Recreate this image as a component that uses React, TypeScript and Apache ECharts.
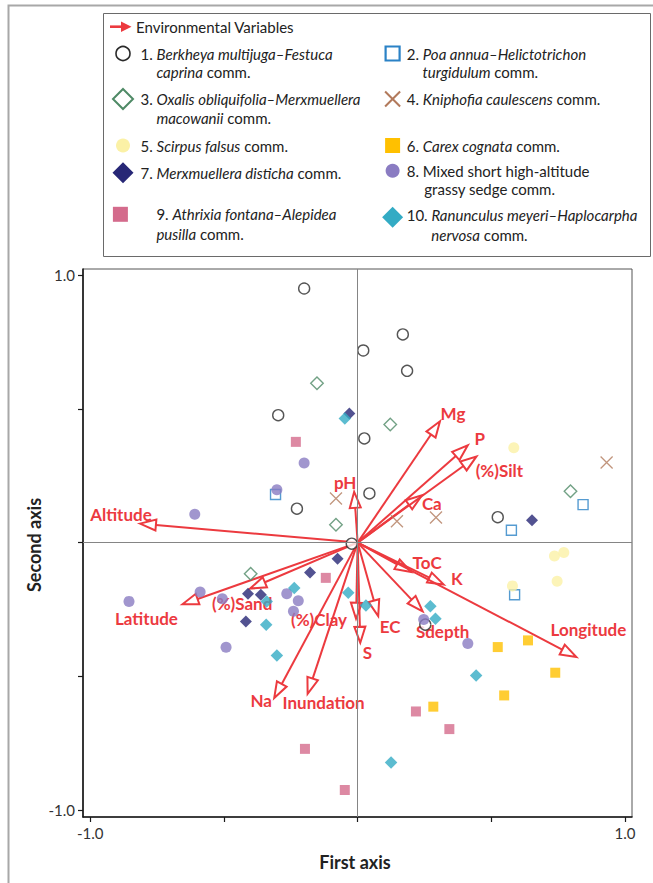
import React, { useEffect, useRef } from "react";
import * as echarts from "echarts";

const FONT = "Lato, 'Open Sans', sans-serif";
const RED = "#ec3a3f";

// Environmental variable vectors (biplot scores on the first and second axes)
const envNames = [
  "Altitude", "pH", "Mg", "P", "(%)Silt", "Ca", "Latitude", "(%)Sand", "(%)Clay",
  "Na", "Inundation", "EC", "S", "ToC", "K", "Sdepth", "Longitude",
];
const envAxis1 = [
  -0.814, -0.013, 0.308, 0.412, 0.444, 0.24, -0.655, -0.402, -0.006,
  -0.312, -0.187, 0.077, 0.01, 0.2, 0.322, 0.243, 0.818,
];
const envAxis2 = [
  0.071, 0.19, 0.454, 0.364, 0.322, 0.177, -0.231, -0.172, -0.285,
  -0.582, -0.566, -0.275, -0.375, -0.11, -0.157, -0.257, -0.428,
];

// Relevé scores per community, [first axis, second axis]
const comm1 = [
  [-0.2, 0.951], [0.169, 0.779], [0.021, 0.719], [0.185, 0.643], [-0.297, 0.477],
  [0.025, 0.39], [-0.227, 0.127], [0.044, 0.184], [0.524, 0.095], [-0.022, -0.004],
  [0.253, -0.307],
];
const comm2 = [[-0.307, 0.18], [0.575, 0.046], [0.843, 0.142], [0.587, -0.195]];
const comm3 = [[-0.152, 0.596], [0.122, 0.442], [-0.081, 0.067], [0.796, 0.192], [-0.4, -0.117]];
const comm4 = [[-0.081, 0.165], [0.147, 0.08], [0.293, 0.094], [0.931, 0.3]];
const comm5 = [[0.584, 0.355], [0.736, -0.05], [0.771, -0.037], [0.746, -0.145], [0.579, -0.162]];
const comm6 = [[0.524, -0.391], [0.637, -0.366], [0.739, -0.487], [0.548, -0.572], [0.283, -0.614]];
const comm7 = [
  [-0.031, 0.483], [0.652, 0.084], [-0.075, -0.06], [-0.178, -0.112],
  [-0.41, -0.191], [-0.362, -0.195], [-0.418, -0.295],
];
const comm8 = [
  [-0.2, 0.298], [-0.302, 0.198], [-0.609, 0.106], [-0.589, -0.185], [-0.506, -0.21],
  [-0.855, -0.22], [-0.265, -0.191], [-0.222, -0.218], [-0.24, -0.257], [-0.492, -0.392],
  [0.247, -0.288], [0.412, -0.378],
];
const comm9 = [[-0.231, 0.377], [-0.119, -0.132], [-0.197, -0.772], [-0.048, -0.926], [0.218, -0.632], [0.343, -0.698]];
const comm10 = [
  [-0.048, 0.464], [-0.035, -0.188], [-0.237, -0.17], [-0.34, -0.22], [-0.342, -0.307],
  [-0.302, -0.423], [0.031, -0.235], [0.272, -0.238], [0.291, -0.285], [0.443, -0.497],
  [0.125, -0.823],
];

// Legend wording: first and second line (rich text, {i|...} is italic)
const commLine1 = [
  "1. {i|Berkheya multijuga–Festuca}",
  "2. {i|Poa annua–Helictotrichon}",
  "3. {i|Oxalis obliquifolia–Merxmuellera}",
  "4. {i|Kniphofia caulescens} comm.",
  "5. {i|Scirpus falsus} comm.",
  "6. {i|Carex cognata} comm.",
  "7. {i|Merxmuellera disticha} comm.",
  "8. Mixed short high-altitude",
  "9. {i|Athrixia fontana–Alepidea}",
  "10. {i|Ranunculus meyeri–Haplocarpha}",
];
const commLine2 = [
  "{i|caprina} comm.",
  "{i|turgidulum} comm.",
  "{i|macowanii} comm.",
  "",
  "",
  "",
  "",
  "grassy sedge comm.",
  "{i|pusilla} comm.",
  "{i|nervosa} comm.",
];

const tickValues = [-1, -0.5, 0, 0.5, 1];
const labelValues = [-1, 1];

// ---- styling & layout ----
const commData = [comm1, comm2, comm3, comm4, comm5, comm6, comm7, comm8, comm9, comm10];
const commStyle = [
  { kind: "circle", fill: "#ffffff", stroke: "#2a2a2a", size: 11 },
  { kind: "rect", fill: "#ffffff", stroke: "#2b82c6", size: 10 },
  { kind: "diamond", fill: "#ffffff", stroke: "#4f8a66", size: 12.5 },
  { kind: "cross", fill: "none", stroke: "#b27a5c", size: 12 },
  { kind: "circle", fill: "#fbf1a6", stroke: null, size: 11 },
  { kind: "rect", fill: "#ffc000", stroke: null, size: 10 },
  { kind: "diamond", fill: "#272776", stroke: null, size: 12 },
  { kind: "circle", fill: "#8a7cc2", stroke: null, size: 11 },
  { kind: "rect", fill: "#d46b8c", stroke: null, size: 10 },
  { kind: "diamond", fill: "#33abc4", stroke: null, size: 12.5 },
];
// legend symbol centre, line-1 x, line-2 x, line-2 y
const legendLayout = [
  { sx: 123, sy: 53.5, x1: 140.5, x2: 156.4, y2: 72 },
  { sx: 392.6, sy: 53.5, x1: 406.7, x2: 422.5, y2: 72 },
  { sx: 123, sy: 99, x1: 140.5, x2: 156.4, y2: 118.3 },
  { sx: 392.6, sy: 99, x1: 406.7, x2: 0, y2: 0 },
  { sx: 123, sy: 145.5, x1: 140.5, x2: 0, y2: 0 },
  { sx: 392.6, sy: 145.5, x1: 406.7, x2: 0, y2: 0 },
  { sx: 123, sy: 172.7, x1: 140.5, x2: 0, y2: 0 },
  { sx: 392.6, sy: 170.7, x1: 406.7, x2: 424.3, y2: 189.3 },
  { sx: 120.4, sy: 214.3, x1: 156.4, x2: 156.4, y2: 234.3, ty: 214.3 },
  { sx: 392.6, sy: 217.3, x1: 406.7, x2: 431.3, y2: 235, ty: 215 },
];
// label offsets from arrow tips, px
const envLabelOffsets = [
  [-19, -9], [-9, -9], [13, -8], [12, -7], [23, 14], [10, 8], [-36, 14], [-8, 15], [-37, 1],
  [-13, 2], [16, 9], [12, 10], [7, 10], [16, -9], [13, -6], [20, 20], [12, -27],
];

const CROSS_PATH = "path://M0,0L10,10M10,0L0,10";
const LEGEND_FS = 15;

function legendSymbol(kind: string, cx: number, cy: number, st: any) {
  const stroke = st.stroke;
  if (kind === "circle") {
    return {
      type: "circle",
      shape: { cx, cy, r: 7 },
      style: stroke ? { fill: "#fff", stroke, lineWidth: 1.6 } : { fill: st.fill },
    };
  }
  if (kind === "rect") {
    return stroke
      ? { type: "rect", shape: { x: cx - 7, y: cy - 7, width: 14, height: 14 }, style: { fill: "#fff", stroke, lineWidth: 2.2 } }
      : { type: "rect", shape: { x: cx - 7.5, y: cy - 7.5, width: 15, height: 15 }, style: { fill: st.fill } };
  }
  if (kind === "diamond") {
    const h = stroke ? 10 : 10.5;
    return {
      type: "polygon",
      shape: { points: [[cx, cy - h], [cx + h, cy], [cx, cy + h], [cx - h, cy]] },
      style: stroke ? { fill: "#fff", stroke, lineWidth: 2 } : { fill: st.fill },
    };
  }
  const h = 7.5;
  return {
    type: "group",
    children: [
      { type: "line", shape: { x1: cx - h, y1: cy - h, x2: cx + h, y2: cy + h }, style: { stroke, lineWidth: 2 } },
      { type: "line", shape: { x1: cx - h, y1: cy + h, x2: cx + h, y2: cy - h }, style: { stroke, lineWidth: 2 } },
    ],
  };
}

function legendText(text: string, x: number, y: number) {
  return {
    type: "text",
    x,
    y,
    style: {
      text,
      fontFamily: FONT,
      fontSize: LEGEND_FS,
      fill: "#222",
      verticalAlign: "middle",
      align: "left",
      rich: { i: { fontFamily: FONT, fontSize: LEGEND_FS, fontStyle: "italic", fill: "#222" } },
    },
  };
}

export default function App() {
  const ref = useRef<HTMLDivElement>(null);

  useEffect(() => {
    if (!ref.current) return;
    const chart = echarts.init(ref.current, null, { renderer: "svg" });

    const legendEls: any[] = [
      { type: "rect", shape: { x: 103.5, y: 13.5, width: 547, height: 243 }, style: { fill: "#fff", stroke: "#6a6a6a", lineWidth: 1 } },
      { type: "line", shape: { x1: 110, y1: 26.7, x2: 122, y2: 26.7 }, style: { stroke: RED, lineWidth: 2.6 } },
      { type: "polygon", shape: { points: [[121, 21.5], [131.5, 26.7], [121, 31.9]] }, style: { fill: RED } },
      legendText("Environmental Variables", 136, 27),
    ];
    commLine1.forEach((t, i) => {
      const L = legendLayout[i];
      legendEls.push(legendSymbol(commStyle[i].kind, L.sx, L.sy, commStyle[i]));
      legendEls.push(legendText(t, L.x1, (L as any).ty ?? L.sy));
      if (commLine2[i]) legendEls.push(legendText(commLine2[i], L.x2, L.y2));
    });

    const scatterSeries = commData.map((d, i) => {
      const st = commStyle[i];
      let symbol = st.kind;
      if (st.kind === "cross") symbol = CROSS_PATH;
      return {
        type: "scatter",
        name: commLine1[i],
        data: d,
        symbol,
        symbolSize: st.size,
        z: 4,
        itemStyle: st.stroke
          ? { color: st.fill, borderColor: st.stroke, borderWidth: st.kind === "cross" ? 1.3 : 1.4 }
          : { color: st.fill },
        emphasis: { disabled: true },
      };
    });

    const option: any = {
      animation: false,
      textStyle: { fontFamily: FONT },
      grid: {
        left: 83,
        top: 269,
        right: 21,
        bottom: 66,
        show: true,
        borderColor: "#555",
        borderWidth: 1,
        backgroundColor: "transparent",
      },
      xAxis: {
        type: "value",
        min: -1.027,
        max: 1.026,
        splitLine: { show: false },
        axisLine: { onZero: false, lineStyle: { color: "#1a1a1a", width: 1.6 } },
        axisTick: { customValues: tickValues, length: 5, lineStyle: { color: "#1a1a1a", width: 1.2 } },
        axisLabel: {
          customValues: labelValues,
          formatter: (v: number) => v.toFixed(1),
          fontSize: 15,
          color: "#333",
          margin: 8,
          fontFamily: FONT,
        },
      },
      yAxis: {
        type: "value",
        min: -1.027,
        max: 1.024,
        splitLine: { show: false },
        axisLine: { onZero: false, lineStyle: { color: "#1a1a1a", width: 1.6 } },
        axisTick: { customValues: tickValues, length: 5, lineStyle: { color: "#1a1a1a", width: 1.2 } },
        axisLabel: {
          customValues: labelValues,
          formatter: (v: number) => v.toFixed(1),
          fontSize: 15,
          color: "#333",
          margin: 8,
          fontFamily: FONT,
        },
      },
      graphic: [
        {
          type: "polyline",
          shape: { points: [[8.5, 883], [8.5, 5.5], [653, 5.5]] },
          style: { stroke: "#a8a8a8", lineWidth: 2, fill: "none" },
          silent: true,
        },
        ...legendEls,
        {
          type: "text",
          x: 355,
          y: 862,
          style: { text: "First axis", font: `bold 18px ${FONT}`, fill: "#222", align: "center", verticalAlign: "middle" },
        },
        {
          type: "text",
          x: 33.5,
          y: 545,
          rotation: Math.PI / 2,
          style: { text: "Second axis", font: `bold 18px ${FONT}`, fill: "#222", align: "center", verticalAlign: "middle" },
        },
      ],
      series: [
        {
          type: "scatter",
          data: [],
          silent: true,
          z: 1,
          markLine: {
            silent: true,
            symbol: "none",
            label: { show: false },
            lineStyle: { color: "#858585", width: 1, type: "solid" },
            data: [{ xAxis: 0 }, { yAxis: 0 }],
          },
        },
        {
          type: "custom",
          z: 3,
          silent: true,
          data: envAxis1.map((x, i) => [x, envAxis2[i]]),
          encode: { x: 0, y: 1 },
          renderItem: (params: any, api: any) => {
            const i = params.dataIndex;
            const o = api.coord([0, 0]);
            const t = api.coord([api.value(0), api.value(1)]);
            const dx = t[0] - o[0];
            const dy = t[1] - o[1];
            const len = Math.hypot(dx, dy);
            const ux = dx / len;
            const uy = dy / len;
            const hl = 16;
            const hw = 5.5;
            const bx = t[0] - ux * hl;
            const by = t[1] - uy * hl;
            const px = -uy;
            const py = ux;
            const off = envLabelOffsets[i];
            return {
              type: "group",
              children: [
                { type: "line", shape: { x1: o[0], y1: o[1], x2: bx, y2: by }, style: { stroke: RED, lineWidth: 2 } },
                {
                  type: "polygon",
                  shape: { points: [[t[0], t[1]], [bx + px * hw, by + py * hw], [bx - px * hw, by - py * hw]] },
                  style: { fill: "none", stroke: RED, lineWidth: 2, lineJoin: "miter" },
                },
                {
                  type: "text",
                  x: t[0] + off[0],
                  y: t[1] + off[1],
                  style: {
                    text: envNames[i],
                    font: `bold 17px ${FONT}`,
                    fill: RED,
                    align: "center",
                    verticalAlign: "middle",
                  },
                },
              ],
            };
          },
        },
        ...scatterSeries,
      ],
    };

    chart.setOption(option);
    return () => chart.dispose();
  }, []);

  return (
    <div
      ref={ref}
      style={{ position: "absolute", left: 0, top: 0, width: 653, height: 883, background: "#fff" }}
    />
  );
}
